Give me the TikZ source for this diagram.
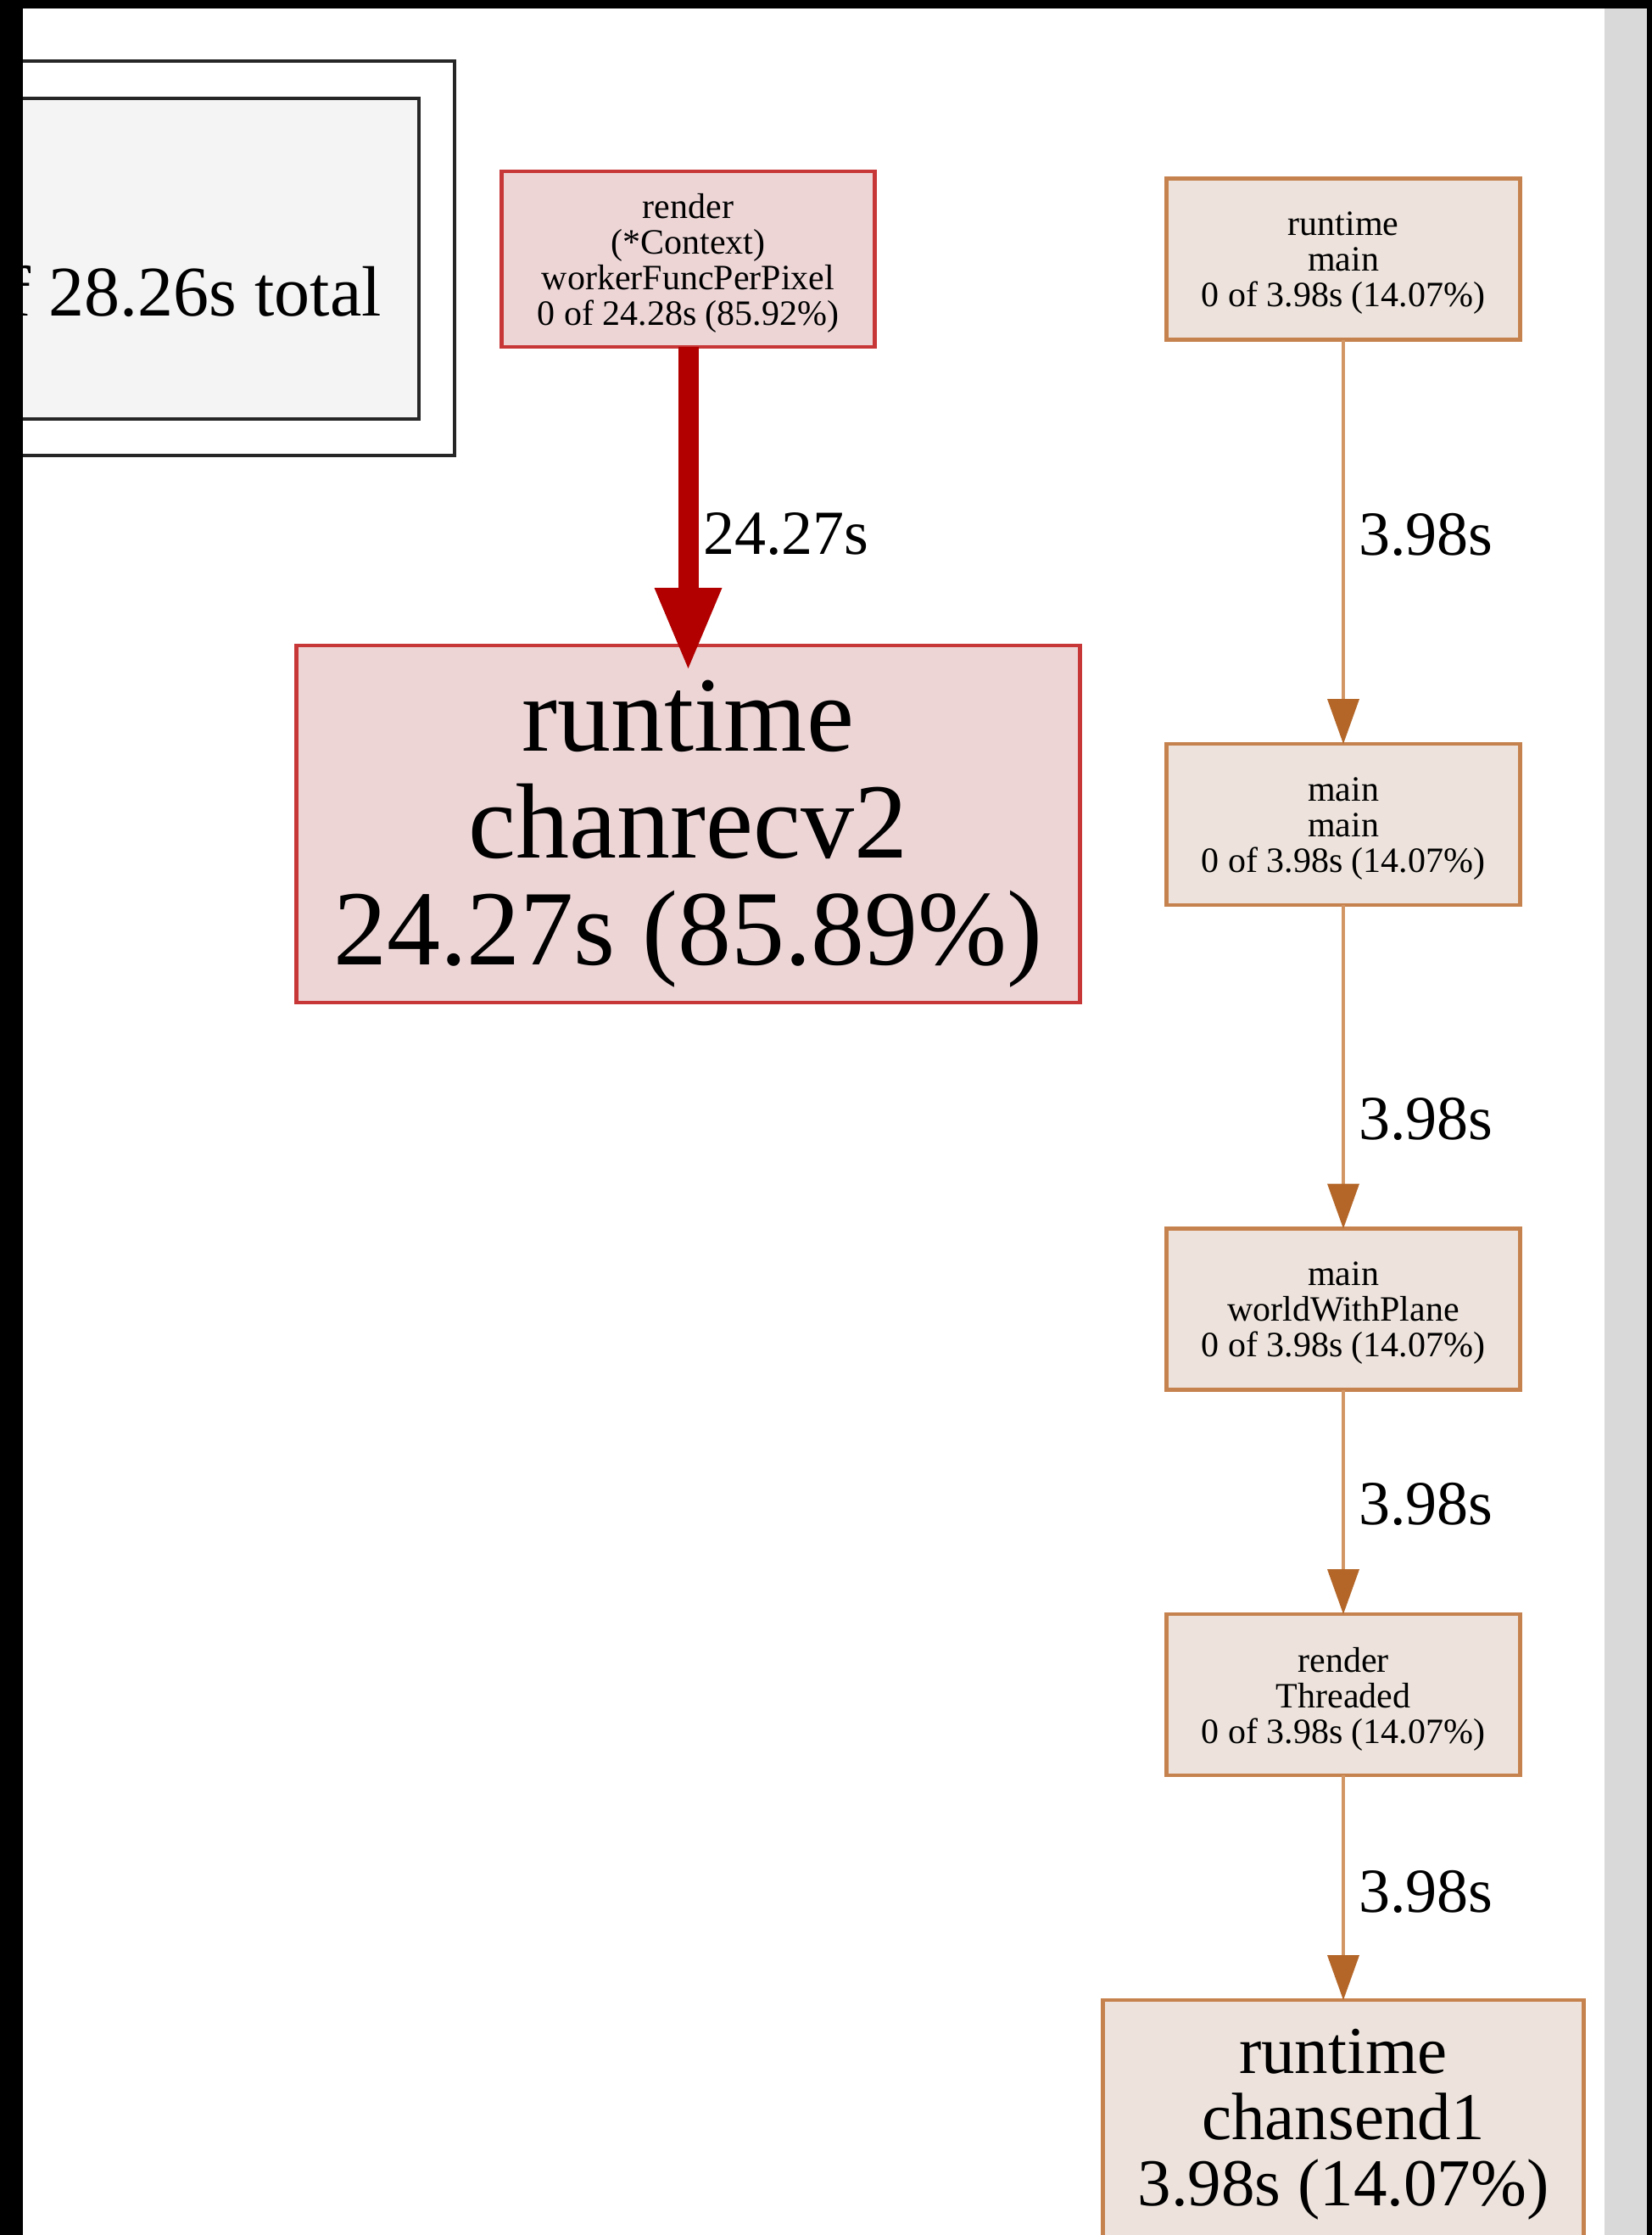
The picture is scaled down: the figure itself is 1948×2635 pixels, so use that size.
\documentclass[tikz,border=0pt]{standalone}
\usepackage{fontspec}
\setmainfont{Liberation Serif}
\usetikzlibrary{arrows.meta}

\definecolor{hotfill}{RGB}{237,213,214}
\definecolor{hotline}{RGB}{200,55,55}
\definecolor{hotedge}{RGB}{178,0,0}
\definecolor{warmfill}{RGB}{237,227,220}
\definecolor{warmline}{RGB}{198,130,78}
\definecolor{warmedge}{RGB}{210,150,100}
\definecolor{warmtip}{RGB}{180,102,40}
\definecolor{legendfill}{RGB}{244,244,244}
\definecolor{sidebar}{RGB}{217,217,217}

\begin{document}
\begin{tikzpicture}[x=1pt,y=-1pt,
  fn/.style={draw, rectangle, line width=4.5pt, outer sep=0pt, inner sep=0pt},
  hot/.style={fn, draw=hotline, fill=hotfill},
  warm/.style={fn, draw=warmline, fill=warmfill},
  boxtext/.style={align=center, inner sep=0pt},
  smalltext/.style={boxtext, font=\fontsize{42}{42}\selectfont, yshift=-5pt},
  bigtext/.style={boxtext, font=\fontsize{126}{126}\selectfont, yshift=-12pt},
  midtext/.style={boxtext, font=\fontsize{79}{78}\selectfont, yshift=-5pt},
  smallbox/.style={warm, minimum width=417pt, minimum height=190pt},
  edgelabel/.style={anchor=west, inner sep=0pt, font=\fontsize{74}{74}\selectfont},
  hotarrow/.style={draw=hotedge, line width=24pt,
    -{Triangle[width=80pt,length=95pt,line width=0pt]}},
  warmarrow/.style={draw=warmedge, line width=4pt,
    -{Triangle[width=38pt,length=53pt,line width=0pt,color=warmtip]}}
]
\useasboundingbox (0,0) rectangle (1948,2635);
\begin{scope}
\clip (0,0) rectangle (1948,2635);
\fill[white] (0,0) rectangle (1948,2635);

% legend (runs off the left edge)
\draw[line width=3.5pt, black!85] (-100,72) rectangle (536,537);
\draw[line width=3.5pt, black!85, fill=legendfill] (-60,116) rectangle (494,494);
\node[anchor=east, inner sep=0pt, font=\fontsize{84}{84}\selectfont] (total) at (450,344) {of 28.26s total};

% hot path
\node[hot, minimum width=440pt, minimum height=207pt,
  label={[smalltext, name=worker-t]center:{render\\(*Context)\\workerFuncPerPixel\\0 of 24.28s (85.92\%)}}]
  (worker) at (811.5,305.5) {};
\node[hot, minimum width=924pt, minimum height=421pt,
  label={[bigtext, name=recv-t]center:{runtime\\chanrecv2\\24.27s (85.89\%)}}]
  (recv) at (811.5,971.5) {};
\draw[hotarrow, shorten >=-27pt] (worker) -- (recv);
\node[edgelabel] (l0) at (829,630) {24.27s};

% main goroutine chain
\node[smallbox, label={[smalltext, name=rtmain-t]center:{runtime\\main\\0 of 3.98s (14.07\%)}}]
  (rtmain) at (1584,305.5) {};
\node[smallbox, label={[smalltext, name=mmain-t]center:{main\\main\\0 of 3.98s (14.07\%)}}]
  (mmain) at (1584,972) {};
\node[smallbox, label={[smalltext, name=world-t]center:{main\\worldWithPlane\\0 of 3.98s (14.07\%)}}]
  (world) at (1584,1543.5) {};
\node[smallbox, label={[smalltext, name=threaded-t]center:{render\\Threaded\\0 of 3.98s (14.07\%)}}]
  (threaded) at (1584,1998) {};
\node[warm, minimum width=567pt, minimum height=284pt,
  label={[midtext, name=send-t]center:{runtime\\chansend1\\3.98s (14.07\%)}}]
  (send) at (1584,2500) {};

\draw[warmarrow] (rtmain) -- (mmain);
\draw[warmarrow] (mmain) -- (world);
\draw[warmarrow] (world) -- (threaded);
\draw[warmarrow] (threaded) -- (send);
\node[edgelabel] (l1) at (1602,630) {3.98s};
\node[edgelabel] (l2) at (1602,1319) {3.98s};
\node[edgelabel] (l3) at (1602,1773) {3.98s};
\node[edgelabel] (l4) at (1602,2230) {3.98s};

% window frame
\fill[sidebar] (1892,0) rectangle (1942,2635);
\fill[black] (1942,0) rectangle (1948,2635);
\fill[black] (0,0) rectangle (27,2635);
\fill[black] (0,0) rectangle (1948,10);
\end{scope}
\end{tikzpicture}
\end{document}
